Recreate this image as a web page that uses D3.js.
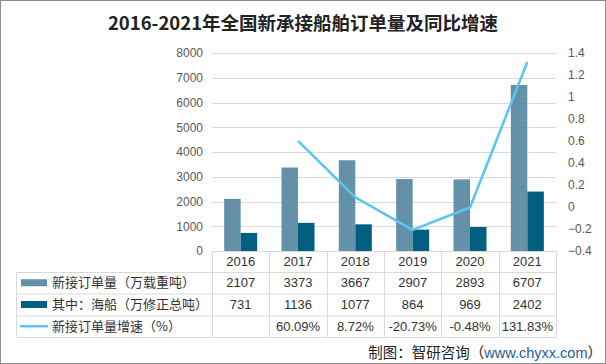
<!DOCTYPE html>
<html><head><meta charset="utf-8">
<script src="https://cdn.jsdelivr.net/npm/d3@7"></script>
<style>body{margin:0;background:#fff}svg{display:block}</style>
</head><body>
<script>
const categories = ["2016","2017","2018","2019","2020","2021"];
const newOrders = [2107,3373,3667,2907,2893,6707];
const seaShips = [731,1136,1077,864,969,2402];
const growth = [null,0.6009,0.0872,-0.2073,-0.0048,1.3183];
const growthLabels = ["","60.09%","8.72%","-20.73%","-0.48%","131.83%"];
const leftTicks = [0,1000,2000,3000,4000,5000,6000,7000,8000];
const rightTicks = [-0.4,-0.2,0,0.2,0.4,0.6,0.8,1,1.2,1.4];
const seriesNames = ["新接订单量（万载重吨）","其中：海船（万修正总吨）","新接订单量增速（%）"];

const W=606,H=364;
const L=212,R=556,T=53,B=251;
const cLight="#5f8fa8", cDark="#005f80", cLine="#5bc5f2";
const svg=d3.select("body").append("svg").attr("width",W).attr("height",H);
svg.append("rect").attr("x",0.5).attr("y",0.5).attr("width",W-1).attr("height",H-1).attr("fill","#fff").attr("stroke","#8c8c8c");

const defs=svg.append("defs");
const pat=defs.append("pattern").attr("id","dots").attr("width",2).attr("height",2).attr("patternUnits","userSpaceOnUse");
pat.append("rect").attr("width",2).attr("height",2).attr("fill",cLight);
pat.append("rect").attr("width",1).attr("height",1).attr("fill","#6f9ab0");

svg.append("text").attr("x",303).attr("y",30).attr("text-anchor","middle")
 .attr("font-family","'Noto Sans CJK SC',sans-serif").attr("font-weight","bold").attr("font-size",18.5).attr("fill","#222")
 .text("2016-2021年全国新承接船舶订单量及同比增速");

const x=d3.scaleBand().domain(categories).range([L,R]);
const xi=d3.scaleBand().domain([0,1]).range([0,33]);
const y=d3.scaleLinear().domain([0,8000]).range([B,T]);
const y2=d3.scaleLinear().domain([-0.4,1.4]).range([B,T]);
const tickFont="'Liberation Sans',Arial,sans-serif";

svg.append("g").selectAll("line").data(leftTicks.filter(d=>d>0)).join("line")
 .attr("x1",L).attr("x2",R).attr("y1",d=>Math.round(y(d))+0.5).attr("y2",d=>Math.round(y(d))+0.5)
 .attr("stroke","#d9d9d9");

const la=svg.append("g").attr("transform",`translate(${L},0)`)
 .call(d3.axisLeft(y).tickValues(leftTicks).tickSize(0).tickPadding(9).tickFormat(d3.format("d")));
la.select(".domain").remove();
la.selectAll("text").attr("font-family",tickFont).attr("font-size",12).attr("fill","#595959");
const ra=svg.append("g").attr("transform",`translate(${R},0)`)
 .call(d3.axisRight(y2).tickValues(rightTicks).tickSize(0).tickPadding(12).tickFormat(d=>d3.format("")(+d.toFixed(1))));
ra.select(".domain").remove();
ra.selectAll("text").attr("font-family",tickFont).attr("font-size",12).attr("fill","#595959");

const pad=(x.bandwidth()-33)/2;
svg.append("g").selectAll("rect").data(categories).join("rect")
 .attr("x",d=>x(d)+pad+xi(0)).attr("width",xi.bandwidth())
 .attr("y",(d,i)=>y(newOrders[i])).attr("height",(d,i)=>B-y(newOrders[i])).attr("fill","url(#dots)");
svg.append("g").selectAll("rect").data(categories).join("rect")
 .attr("x",d=>x(d)+pad+xi(1)).attr("width",xi.bandwidth())
 .attr("y",(d,i)=>y(seaShips[i])).attr("height",(d,i)=>B-y(seaShips[i])).attr("fill",cDark);

const line=d3.line().defined(d=>d.v!=null).x(d=>x(d.c)+x.bandwidth()/2).y(d=>y2(d.v));
svg.append("path").datum(categories.map((c,i)=>({c,v:growth[i]})))
 .attr("d",line).attr("fill","none").attr("stroke",cLine).attr("stroke-width",2.5).attr("stroke-linejoin","round");

const rowsY=[B,272,293.5,315.5,337];
const tg=svg.append("g").attr("stroke","#d9d9d9").attr("fill","none");
tg.append("line").attr("x1",L).attr("x2",R).attr("y1",B+0.5).attr("y2",B+0.5);
[1,2,3,4].forEach(k=>tg.append("line").attr("x1",16.5).attr("x2",R+0.5).attr("y1",rowsY[k]+0.5).attr("y2",rowsY[k]+0.5));
tg.append("line").attr("x1",16.5).attr("x2",16.5).attr("y1",rowsY[1]+0.5).attr("y2",rowsY[4]+0.5);
categories.concat(["end"]).forEach((c,i)=>{
  const xx=Math.round(L+i*x.bandwidth())+0.5;
  tg.append("line").attr("x1",xx).attr("x2",xx).attr("y1",B).attr("y2",rowsY[4]+0.5);
});
const cellFont="'Liberation Sans',Arial,sans-serif";
const rowData=[categories,newOrders.map(String),seaShips.map(String),growthLabels];
rowData.forEach((row,r)=>{
  svg.append("g").selectAll("text").data(row).join("text")
   .attr("x",(d,i)=>x(categories[i])+x.bandwidth()/2).attr("y",(rowsY[r]+rowsY[r+1])/2+4.5)
   .attr("text-anchor","middle").attr("font-family",cellFont).attr("font-size",13).attr("fill","#333").text(d=>d);
});
const ly=[(rowsY[1]+rowsY[2])/2,(rowsY[2]+rowsY[3])/2,(rowsY[3]+rowsY[4])/2];
svg.append("rect").attr("x",21).attr("y",ly[0]-3.5).attr("width",26).attr("height",7).attr("fill","url(#dots)");
svg.append("rect").attr("x",21).attr("y",ly[1]-3.5).attr("width",26).attr("height",7).attr("fill",cDark);
svg.append("line").attr("x1",21).attr("x2",47).attr("y1",ly[2]).attr("y2",ly[2]).attr("stroke",cLine).attr("stroke-width",2.5).attr("stroke-linecap","round");
svg.append("g").selectAll("text").data(seriesNames).join("text")
 .attr("x",52).attr("y",(d,i)=>ly[i]+4.5).attr("font-family","'Noto Sans CJK SC',sans-serif").attr("font-size",13).attr("fill","#333").text(d=>d);

const src=svg.append("text").attr("x",602).attr("y",358).attr("text-anchor","end")
 .attr("font-family","'Noto Sans CJK SC',sans-serif").attr("font-size",14.5).attr("fill","#222");
src.append("tspan").text("制图：智研咨询（");
src.append("tspan").attr("fill","#1f5d9e").attr("font-family","'Liberation Sans',Arial,sans-serif").text("www.chyxx.com");
src.append("tspan").text("）");
</script>
</body></html>
